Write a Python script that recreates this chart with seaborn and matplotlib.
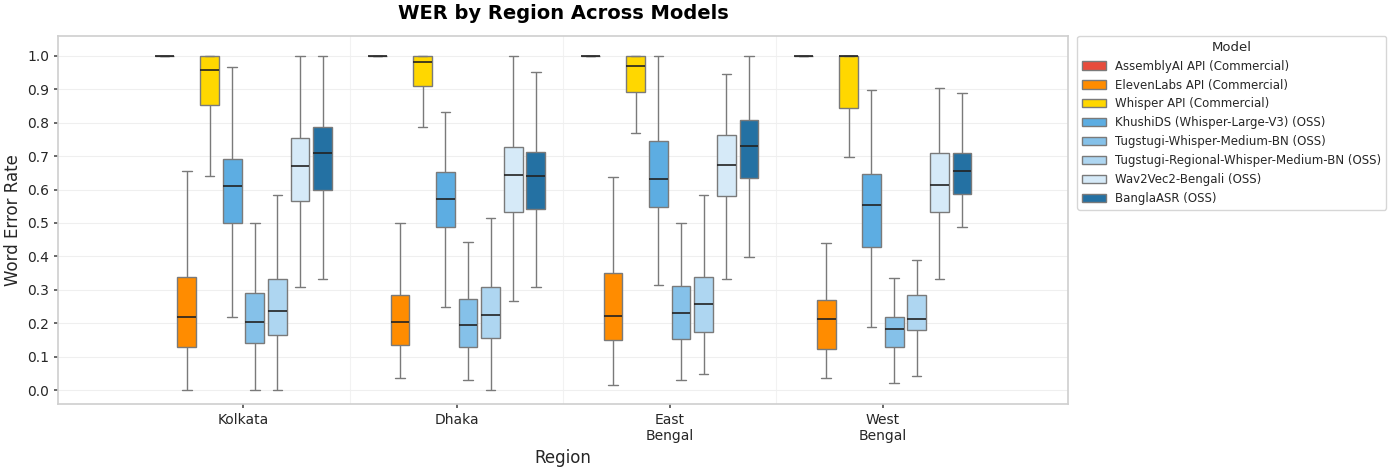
import pandas as pd
import matplotlib
matplotlib.use("Agg")
import matplotlib.pyplot as plt
import seaborn as sns
import numpy as np

# regions on the x axis and the models (hue)
regions = ["Kolkata", "Dhaka", "East\nBengal", "West\nBengal"]
models = ["AssemblyAI API (Commercial)", "ElevenLabs API (Commercial)", "Whisper API (Commercial)",
          "KhushiDS (Whisper-Large-V3) (OSS)", "Tugstugi-Whisper-Medium-BN (OSS)",
          "Tugstugi-Regional-Whisper-Medium-BN (OSS)", "Wav2Vec2-Bengali (OSS)", "BanglaASR (OSS)"]
colors = ["#e74c3c", "#ff8c00", "#ffd700", "#5dade2", "#85c1e9", "#aed6f1", "#d6eaf8", "#2471a3"]

# five number summaries, rows = models, cols = regions
whisker_low = [[1.0, 1.0, 1.0, 1.0],
               [0.000, 0.037, 0.016, 0.037],
               [0.639, 0.787, 0.768, 0.697],
               [0.218, 0.249, 0.316, 0.190],
               [0.000, 0.031, 0.031, 0.020],
               [0.000, 0.000, 0.049, 0.042],
               [0.308, 0.268, 0.333, 0.333],
               [0.332, 0.308, 0.399, 0.487]]
q1 = [[1.0, 1.0, 1.0, 1.0],
      [0.130, 0.135, 0.150, 0.124],
      [0.853, 0.911, 0.893, 0.845],
      [0.499, 0.488, 0.549, 0.429],
      [0.142, 0.128, 0.152, 0.128],
      [0.166, 0.157, 0.175, 0.181],
      [0.567, 0.534, 0.581, 0.532],
      [0.599, 0.542, 0.635, 0.588]]
median = [[1.0, 1.0, 1.0, 1.0],
          [0.218, 0.203, 0.223, 0.212],
          [0.956, 0.982, 0.968, 1.000],
          [0.610, 0.571, 0.632, 0.555],
          [0.205, 0.195, 0.232, 0.183],
          [0.236, 0.226, 0.259, 0.213],
          [0.671, 0.644, 0.672, 0.615],
          [0.708, 0.641, 0.731, 0.655]]
q3 = [[1.0, 1.0, 1.0, 1.0],
      [0.339, 0.284, 0.349, 0.271],
      [1.0, 1.0, 1.0, 1.0],
      [0.690, 0.653, 0.744, 0.645],
      [0.292, 0.274, 0.313, 0.220],
      [0.332, 0.309, 0.339, 0.284],
      [0.753, 0.726, 0.763, 0.710],
      [0.788, 0.713, 0.808, 0.710]]
whisker_high = [[1.0, 1.0, 1.0, 1.0],
                [0.654, 0.499, 0.636, 0.441],
                [1.0, 1.0, 1.0, 1.0],
                [0.965, 0.832, 1.000, 0.899],
                [0.499, 0.443, 0.499, 0.336],
                [0.583, 0.514, 0.583, 0.390],
                [1.000, 1.000, 0.944, 0.903],
                [1.000, 0.950, 1.000, 0.890]]

rows = []
for i, model in enumerate(models):
    for j, region in enumerate(regions):
        for stat in (whisker_low, q1, median, q3, whisker_high):
            rows.append({"Region": region, "Model": model, "WER": stat[i][j]})
df = pd.DataFrame(rows)

sns.set_theme(style="whitegrid")
plt.rcParams['font.family'] = ['DejaVu Sans']

f = plt.figure(figsize=(14, 4.68), dpi=100)
ax = f.add_axes([0.0415, 0.137, 0.7215, 0.786])

sns.boxplot(data=df, x="Region", y="WER", hue="Model", order=regions, hue_order=models,
            palette=colors, saturation=1, width=0.85, gap=0.17, whis=(0, 100), showfliers=False,
            linecolor="#7a7a7a", linewidth=1,
            medianprops=dict(color="#222222", linewidth=1.2), ax=ax)

ax.set_xlim(-0.87, 3.87)
ax.set_ylim(-0.041, 1.059)
ax.set_yticks(np.arange(0, 1.01, 0.1))
ax.set_yticklabels([f"{v:.1f}" for v in np.arange(0, 1.01, 0.1)])
ax.grid(axis="y", color="#efefef", linewidth=0.8)
ax.grid(axis="x", visible=False)
for xv in (0.5, 1.5, 2.5):
    ax.axvline(xv, color="#f2f2f2", linewidth=0.8, zorder=0)
ax.set_axisbelow(True)
for s in ax.spines.values():
    s.set_color("#d0d0d0")
ax.tick_params(axis="both", labelsize=10, length=3, color="#555555", bottom=True, left=True)

ax.set_title("WER by Region Across Models", fontsize=14, fontweight="bold", pad=12, color="black")
ax.set_xlabel("Region", fontsize=12)
ax.set_ylabel("Word Error Rate", fontsize=12)

sns.move_legend(ax, "upper left", bbox_to_anchor=(1.009, 1.0), borderaxespad=0, title="Model",
                frameon=True, fontsize=8.5, title_fontsize=9.5)

f.savefig("out.png", dpi=100)
plt.close("all")
